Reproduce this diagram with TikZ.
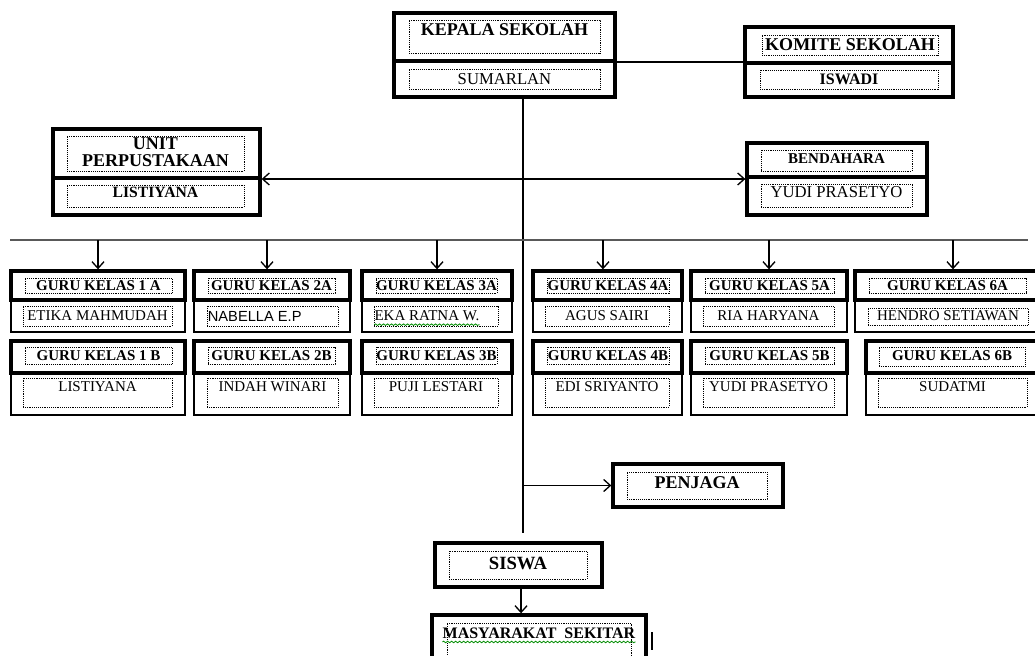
\documentclass[tikz,border=0pt]{standalone}
\usepackage{fontspec}
\setmainfont{Liberation Serif}
\newfontfamily\sansfont{Liberation Sans}
\usepackage{tikz}
\usetikzlibrary{positioning, fit, arrows.meta, decorations.pathmorphing}

\tikzset{
  tebal/.style={draw, line width=2.5pt, inner sep=0pt},
  tipis/.style={draw, line width=1pt, inner sep=0pt},
  titik/.style={draw, line width=0.6pt, dash pattern=on 0.6pt off 0.8pt, inner sep=0pt},
  judulbesar/.style={font=\fontsize{13.5}{12.75}\selectfont\bfseries, inner sep=0pt, align=center},
  judul/.style={font=\fontsize{11.25}{13}\selectfont\bfseries, inner sep=0pt},
  nama/.style={font=\fontsize{11.25}{13}\selectfont, inner sep=0pt},
  namabesar/.style={font=\fontsize{12.5}{14}\selectfont, inner sep=0pt},
  namasans/.style={font=\fontsize{11}{13}\selectfont\sansfont, inner sep=0pt},
  garis/.style={line width=1pt},
  panah/.style={garis, -{Straight Barb[length=5pt,width=9pt]}},
  ganda/.style={garis, {Straight Barb[length=5pt,width=9pt]}-{Straight Barb[length=5pt,width=9pt]}},
  salah/.style={green!55!black, line width=0.6pt, decorate, decoration={snake, amplitude=0.6pt, segment length=3pt}}
}

% kotak titik-titik tanpa teks
\newcommand{\kotak}[5]{\node[titik, fit={(#2,#3) (#4,#5)}] (#1) {};}
% kotak titik-titik dengan teks di tengah
\newcommand{\isian}[8]{%
  \node[titik, fit={(#2,#3) (#4,#5)}] (#1) {};
  \node[#7] (#1-teks) at ({(#2+#4)/2},#6) {#8};}
% kotak guru: badan tipis, kepala tebal
\newcommand{\kelas}[6]{%
  \node[tipis, fit={(#2,#5) (#3,#6)}] (#1-badan) {};
  \node[tebal, fit={(#2,#4) (#3,#5)}] (#1) {};}

\begin{document}
\begin{tikzpicture}[x=0.75pt,y=0.75pt,yscale=-1,xscale=1]
    \useasboundingbox (0,0) rectangle (1035,656);

    % kepala sekolah
    \node[tebal, fit={(394,13) (615,97)}] (kepala) {};
    \draw[line width=3pt] (kepala.west |- 0,61) -- (kepala.east |- 0,61);
    \isian{kepala-judul}{409}{20}{600}{53}{30}{judulbesar}{KEPALA SEKOLAH}
    \isian{kepala-nama}{409}{69}{600}{89}{79}{namabesar}{SUMARLAN}

    % komite sekolah
    \node[tebal, fit={(745,27) (953,97)}] (komite) {};
    \draw[tebal] (komite.west |- 0,63) -- (komite.east |- 0,63);
    \isian{komite-judul}{762}{35}{938}{55}{45}{judulbesar}{KOMITE SEKOLAH}
    \isian{komite-nama}{760}{70}{938}{89}{79}{judul, font=\fontsize{12}{14}\selectfont\bfseries}{ISWADI}

    % unit perpustakaan
    \node[tebal, fit={(53,129) (260,215)}] (unit) {};
    \draw[tebal] (unit.west |- 0,178) -- (unit.east |- 0,178);
    \isian{unit-judul}{67}{136}{244}{171}{152}{judulbesar}{UNIT\\PERPUSTAKAAN}
    \isian{unit-nama}{67}{185}{244}{207}{192}{judul, font=\fontsize{11.75}{14}\selectfont\bfseries}{LISTIYANA}

    % bendahara
    \node[tebal, fit={(747,143) (927,215)}] (bendahara) {};
    \draw[tebal] (bendahara.west |- 0,177) -- (bendahara.east |- 0,177);
    \isian{bendahara-judul}{761}{150}{912}{171}{159}{judul}{BENDAHARA}
    \isian{bendahara-nama}{761}{184}{912}{207}{192}{namabesar}{YUDI PRASETYO}

    % garis pokok
    \coordinate (tulang) at (523,533);
    \coordinate (bus-kiri) at (10,240);
    \coordinate (bus-kanan) at (1028,240);
    \draw[garis] (komite.west) -- (komite.west -| kepala.east);
    \draw[garis] (kepala.south -| tulang) -- (tulang);
    \draw[ganda] (unit.east |- bendahara.west) -- (bendahara.west);
    \draw[line width=1.2pt, black!65] (bus-kiri) -- (bus-kanan);

    % guru kelas
    \kelas{g1a}{11}{185}{271}{300}{332}
    \kelas{g1b}{11}{185}{341}{373}{415}
    \kelas{g2a}{194}{350}{271}{300}{332}
    \kelas{g2b}{194}{350}{341}{373}{415}
    \kelas{g3a}{362}{512}{271}{300}{332}
    \kelas{g3b}{362}{512}{341}{373}{415}
    \kelas{g4a}{533}{682}{271}{300}{332}
    \kelas{g4b}{533}{682}{341}{373}{415}
    \kelas{g5a}{691}{847}{271}{300}{332}
    \kelas{g5b}{691}{847}{341}{373}{415}
    \kelas{g6a}{855}{1051}{271}{300}{332}
    \kelas{g6b}{866}{1045}{341}{373}{415}

    \isian{g1a-judul}{25}{278}{172}{293}{286}{judul}{GURU KELAS 1 A}
    \isian{g1a-nama}{23}{306}{172}{326}{316}{nama}{ETIKA MAHMUDAH}
    \isian{g1b-judul}{25}{347}{172}{364}{356}{judul}{GURU KELAS 1 B}
    \isian{g1b-nama}{23}{378}{172}{407}{387}{nama}{LISTIYANA}

    \isian{g2a-judul}{208}{278}{335}{293}{286}{judul}{GURU KELAS 2A}
    \kotak{g2a-nama}{207}{306}{338}{326}
    \node[namasans, anchor=west] (g2a-nama-teks) at ([xshift=0.75pt]g2a-nama.west) {NABELLA E.P};
    \isian{g2b-judul}{208}{347}{335}{364}{356}{judul}{GURU KELAS 2B}
    \isian{g2b-nama}{207}{378}{338}{407}{387}{nama}{INDAH WINARI}

    \isian{g3a-judul}{376}{278}{497}{293}{286}{judul}{GURU KELAS 3A}
    \kotak{g3a-nama}{374}{306}{498}{326}
    \node[nama, anchor=west] (g3a-nama-teks) at ([xshift=0.5pt]g3a-nama.west) {EKA RATNA W.};
    \isian{g3b-judul}{376}{347}{497}{364}{356}{judul}{GURU KELAS 3B}
    \isian{g3b-nama}{374}{378}{498}{407}{387}{nama}{PUJI LESTARI}

    \isian{g4a-judul}{547}{278}{669}{293}{286}{judul}{GURU KELAS 4A}
    \isian{g4a-nama}{545}{306}{669}{326}{316}{nama}{AGUS SAIRI}
    \isian{g4b-judul}{547}{347}{669}{364}{356}{judul}{GURU KELAS 4B}
    \isian{g4b-nama}{545}{378}{669}{407}{387}{nama}{EDI SRIYANTO}

    \isian{g5a-judul}{705}{278}{834}{293}{286}{judul}{GURU KELAS 5A}
    \isian{g5a-nama}{703}{306}{834}{326}{316}{nama}{RIA HARYANA}
    \isian{g5b-judul}{705}{347}{834}{364}{356}{judul}{GURU KELAS 5B}
    \isian{g5b-nama}{703}{378}{834}{407}{387}{nama}{YUDI PRASETYO}

    \isian{g6a-judul}{869}{278}{1026}{293}{286}{judul}{GURU KELAS 6A}
    \isian{g6a-nama}{868}{308}{1028}{325}{316}{nama}{HENDRO SETIAWAN}
    \isian{g6b-judul}{879}{347}{1025}{366}{356}{judul}{GURU KELAS 6B}
    \isian{g6b-nama}{878}{378}{1027}{407}{387}{nama}{SUDATMI}

    % panah ke guru
    \draw[panah] (g1a.north |- bus-kiri) -- (g1a.north);
    \draw[panah] ([xshift=-3.75pt]g2a.north |- bus-kiri) -- ([xshift=-3.75pt]g2a.north);
    \draw[panah] (g3a.north |- bus-kiri) -- (g3a.north);
    \draw[panah] ([xshift=-3.4pt]g4a.north |- bus-kiri) -- ([xshift=-3.4pt]g4a.north);
    \draw[panah] (g5a.north |- bus-kiri) -- (g5a.north);
    \draw[panah] (g6a.north |- bus-kiri) -- (g6a.north);

    % penjaga
    \node[tebal, fit={(613,464) (783,507)}] (penjaga) {};
    \isian{penjaga-judul}{627}{472}{767}{499}{483}{judulbesar}{PENJAGA}
    \draw[panah] (penjaga.west -| tulang) -- (penjaga.west);

    % siswa dan masyarakat
    \node[tebal, fit={(435,543) (602,587)}] (siswa) {};
    \isian{siswa-judul}{449}{551}{587}{579}{563}{judulbesar, font=\fontsize{14}{16}\selectfont\bfseries}{SISWA}
    \node[tebal, fit={(432,615) (646,675)}] (masyarakat) {};
    \isian{masyarakat-judul}{447}{623}{631}{670}{633}{judul, font=\fontsize{12}{14}\selectfont\bfseries}{MASYARAKAT\ \ SEKITAR}
    \draw[panah] ([xshift=1.9pt]siswa.south) -- ([xshift=1.9pt]siswa.south |- masyarakat.north);

    % tanda ejaan dan kursor
    \draw[salah] ([yshift=2.5pt]g3a-nama-teks.south west) -- ([yshift=2.5pt]g3a-nama-teks.south east);
    \draw[salah] ([yshift=2.5pt]masyarakat-judul-teks.south west) -- ([yshift=2.5pt]masyarakat-judul-teks.south east);
    \draw[line width=2pt] (652,632) -- (652,650);
\end{tikzpicture}
\end{document}
